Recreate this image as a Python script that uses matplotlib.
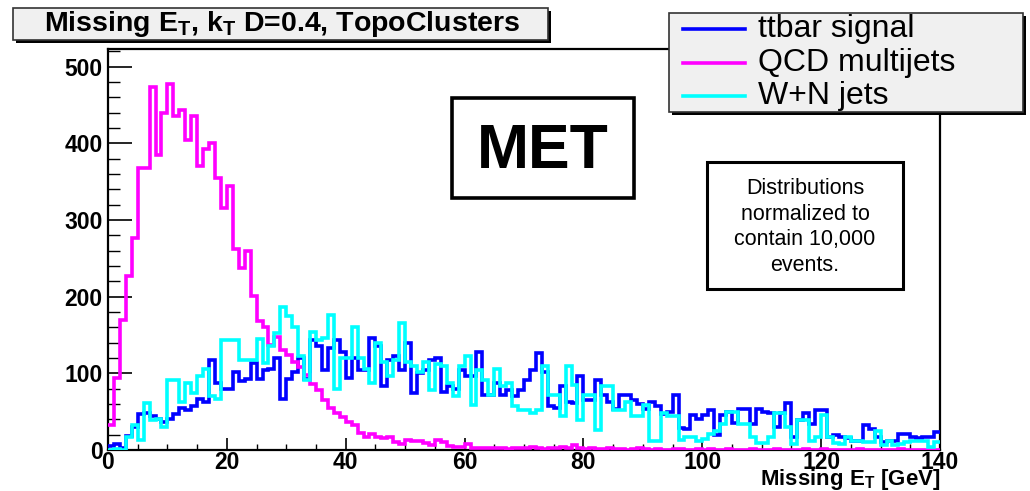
import numpy as np
import matplotlib
matplotlib.use("Agg")
import matplotlib.pyplot as plt
from matplotlib.patches import Rectangle
from matplotlib.lines import Line2D
from matplotlib.ticker import MultipleLocator

plt.rcParams['font.family'] = ['Liberation Sans', 'DejaVu Sans']
plt.rcParams['mathtext.fontset'] = 'custom'
plt.rcParams['mathtext.rm'] = 'Liberation Sans'
plt.rcParams['mathtext.bf'] = 'Liberation Sans:bold'
plt.rcParams['mathtext.it'] = 'Liberation Sans:italic'

# ---------------- data (1 GeV bins, 0-140 GeV) ----------------
bin_edges = np.arange(0, 141, 1)

qcd_multijets = [
    32, 94, 170, 227, 277, 368, 368, 474, 385, 439,
    477, 436, 443, 404, 436, 371, 392, 400, 355, 316,
    344, 262, 237, 260, 201, 168, 161, 137, 148, 130,
    124, 115, 108, 98, 86, 78, 65, 55, 48, 43,
    37, 33, 22, 17, 21, 17, 15, 17, 11, 8,
    13, 12, 12, 9, 7, 13, 10, 5, 4, 4,
    8, 2, 2, 3, 2, 3, 2, 1, 2, 3,
    2, 4, 2, 1, 2, 3, 4, 2, 6, 2,
    1, 2, 1, 1, 2, 1, 1, 0, 1, 2,
    1, 0, 1, 0, 0, 1, 1, 0, 0, 1,
    0, 1, 0, 0, 1, 0, 0, 0, 1, 0,
    0, 0, 1, 0, 0, 0, 0, 1, 0, 0,
    1, 0, 0, 0, 0, 0, 1, 0, 0, 0,
    0, 0, 0, 1, 0, 0, 0, 0, 0, 0,
]

ttbar_signal = [
    5, 8, 3, 18, 30, 47, 48, 44, 40, 37,
    40, 47, 55, 52, 58, 66, 62, 117, 87, 80,
    80, 102, 90, 92, 113, 93, 104, 106, 120, 67,
    93, 102, 120, 93, 144, 135, 104, 133, 143, 128,
    94, 120, 104, 104, 146, 135, 83, 117, 122, 104,
    139, 74, 100, 104, 117, 120, 76, 83, 80, 104,
    96, 96, 128, 72, 72, 87, 72, 78, 70, 78,
    91, 104, 127, 102, 57, 55, 83, 63, 61, 96,
    65, 65, 91, 72, 62, 54, 72, 72, 65, 60,
    54, 63, 57, 47, 49, 72, 29, 28, 46, 40,
    46, 52, 20, 46, 50, 35, 54, 54, 34, 54,
    50, 48, 30, 48, 61, 17, 39, 48, 34, 52,
    52, 17, 20, 17, 15, 12, 12, 33, 28, 17,
    10, 12, 12, 21, 21, 17, 15, 17, 17, 23,
]

w_n_jets = [
    0, 1, 0, 17, 32, 13, 61, 39, 41, 30,
    91, 91, 63, 87, 74, 97, 106, 70, 67, 143,
    143, 143, 117, 117, 117, 145, 113, 135, 152, 187,
    175, 160, 122, 91, 154, 143, 146, 176, 80, 120,
    120, 161, 120, 105, 87, 139, 115, 96, 117, 165,
    115, 109, 102, 115, 78, 112, 110, 87, 70, 109,
    122, 59, 104, 91, 72, 106, 83, 87, 57, 52,
    52, 48, 52, 109, 72, 72, 44, 109, 85, 39,
    72, 72, 26, 83, 83, 52, 52, 63, 44, 44,
    59, 12, 12, 48, 44, 44, 13, 17, 17, 12,
    14, 21, 25, 34, 50, 50, 34, 34, 17, 9,
    9, 17, 48, 48, 30, 8, 39, 39, 12, 17,
    46, 17, 9, 8, 17, 12, 12, 10, 10, 25,
    6, 12, 6, 8, 10, 12, 12, 12, 4, 10,
]

legend_labels = ["ttbar signal", "QCD multijets", "W+N jets"]
colors = ["#0000ff", "#ff00ff", "#00ffff"]
x_ticks = [0, 20, 40, 60, 80, 100, 120, 140]
y_ticks = [0, 100, 200, 300, 400, 500]

# ---------------- figure ----------------
W, H = 1030, 491
fig = plt.figure(figsize=(W / 100, H / 100), dpi=100)
fig.patch.set_facecolor('white')

def fx(x):
    return x / W

def fy(y):
    return 1 - y / H

ax_l, ax_r, ax_t, ax_b = 108, 940, 49, 450
ax = fig.add_axes([fx(ax_l), fy(ax_b), fx(ax_r) - fx(ax_l), fy(ax_t) - fy(ax_b)])

series = [ttbar_signal, qcd_multijets, w_n_jets]
for vals, col in zip(series, colors):
    ax.stairs(vals, bin_edges, baseline=None, color=col, lw=2.6, zorder=3)

ax.set_xlim(0, 140)
ax.set_ylim(0, 523)
ax.set_xticks(x_ticks)
ax.set_yticks(y_ticks)
ax.xaxis.set_minor_locator(MultipleLocator(5))
ax.yaxis.set_minor_locator(MultipleLocator(20))
ax.tick_params(axis='y', which='major', direction='in', length=17, width=1.2,
               labelsize=16.5, pad=4, right=False)
ax.tick_params(axis='y', which='minor', direction='in', length=8.5, width=1.0, right=False)
ax.tick_params(axis='x', which='major', direction='in', length=8.5, width=1.2,
               labelsize=16.5, pad=1, top=False)
ax.tick_params(axis='x', which='minor', direction='in', length=4.3, width=1.0, top=False)
for lab in ax.get_xticklabels() + ax.get_yticklabels():
    lab.set_fontweight('bold')
for s in ax.spines.values():
    s.set_linewidth(1.6)
    s.set_color('black')

fig.text(fx(940), fy(479), r'Missing E$_{\mathbf{T}}$ [GeV]', ha='right', va='center',
         fontsize=16, fontweight='bold')

# ---------------- title box ----------------
def shadow_box(x0, y0, x1, y1, face, off=3, lw=1.2):
    fig.patches.append(Rectangle((fx(x0 + off), fy(y1 + off)), fx(x1) - fx(x0), fy(y0) - fy(y1),
                                 transform=fig.transFigure, facecolor='black',
                                 edgecolor='none', zorder=10))
    fig.patches.append(Rectangle((fx(x0), fy(y1)), fx(x1) - fx(x0), fy(y0) - fy(y1),
                                 transform=fig.transFigure, facecolor=face,
                                 edgecolor='#333333', lw=lw, zorder=11))

shadow_box(13, 8, 548, 40, '#f0f0f0')
fig.text(fx(282), fy(24), r'Missing E$_{\mathbf{T}}$, k$_{\mathbf{T}}$ D=0.4, TopoClusters',
         ha='center', va='center', fontsize=20.5, fontweight='bold', zorder=12)

# ---------------- legend box ----------------
shadow_box(669, 13, 1023, 112, '#f0f0f0')
leg_y = [29, 63, 96]
for lab, col, yy in zip(legend_labels, colors, leg_y):
    fig.lines.append(Line2D([fx(683), fx(745)], [fy(yy), fy(yy)], transform=fig.transFigure,
                            color=col, lw=2.6, zorder=12))
    fig.text(fx(758), fy(yy), lab, ha='left', va='center', fontsize=23, zorder=12)

# ---------------- MET box ----------------
fig.patches.append(Rectangle((fx(452), fy(198)), fx(634) - fx(452), fy(98) - fy(198),
                             transform=fig.transFigure, facecolor='white',
                             edgecolor='black', lw=2.6, zorder=9))
fig.text(fx(543), fy(151), 'MET', ha='center', va='center', fontsize=45,
         fontweight='bold', zorder=10)

# ---------------- normalisation note ----------------
fig.patches.append(Rectangle((fx(707), fy(289)), fx(903) - fx(707), fy(162) - fy(289),
                             transform=fig.transFigure, facecolor='white',
                             edgecolor='black', lw=2.2, zorder=9))
note_lines = ["Distributions", "normalized to", "contain 10,000", "events."]
for i, t in enumerate(note_lines):
    fig.text(fx(805), fy(189 + 25.5 * i), t, ha='center', va='center', fontsize=15.5, zorder=10)

fig.savefig('out.png', dpi=100)
